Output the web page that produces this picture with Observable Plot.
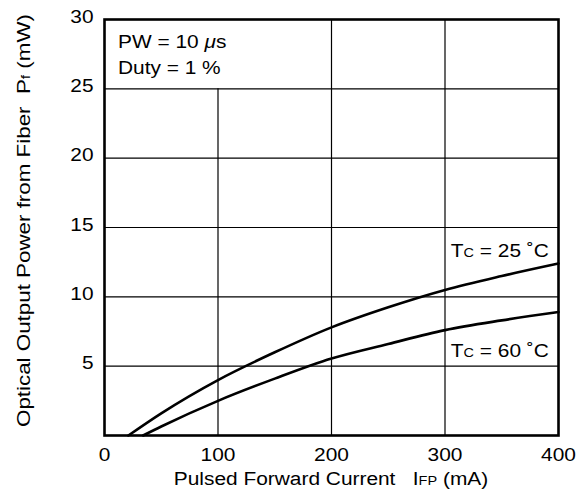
<!DOCTYPE html>
<html><head><meta charset="utf-8">
<script src="https://cdn.jsdelivr.net/npm/d3@7"></script>
<script src="https://cdn.jsdelivr.net/npm/@observablehq/plot@0.6"></script>
<style>
body{margin:0;background:#fff}
svg text{font-family:"Liberation Sans",Arial,sans-serif}
</style>
</head><body><div id="chart"></div>
<script>
// Data
const current25 = [21, 50, 100, 150, 200, 250, 300, 350, 400];
const power25   = [0, 1.6, 4.0, 6.0, 7.8, 9.25, 10.5, 11.5, 12.4];
const current60 = [34, 50, 100, 150, 200, 250, 300, 350, 400];
const power60   = [0, 0.65, 2.5, 4.1, 5.55, 6.6, 7.6, 8.3, 8.9];
const xTicks = [0, 100, 200, 300, 400];
const yTicks = [5, 10, 15, 20, 25, 30];
const gridY = [5, 10, 15, 20, 25];
const gridXvals = [100, 200, 300];
const gridXtop  = [25, 30, 30];

const series = [
  ...current25.map((c, i) => ({x: c, y: power25[i], s: "25"})),
  ...current60.map((c, i) => ({x: c, y: power60[i], s: "60"}))
];
const gridX = gridXvals.map((v, i) => ({x: v, y1: 0, y2: gridXtop[i]}));

const chart = Plot.plot({
  width: 577,
  height: 502,
  marginLeft: 104,
  marginRight: 19,
  marginTop: 19,
  marginBottom: 67,
  style: {fontFamily: "Liberation Sans, Arial, sans-serif", fontSize: "18px", color: "#000", background: "#fff"},
  x: {domain: [0, 400]},
  y: {domain: [0, 30]},
  marks: [
    Plot.ruleY(gridY, {stroke: "#000", strokeWidth: 1.2}),
    Plot.ruleX(gridX, {x: "x", y1: "y1", y2: "y2", stroke: "#000", strokeWidth: 1.2}),
    Plot.line(series, {x: "x", y: "y", z: "s", curve: "monotone-x", stroke: "#000", strokeWidth: 2.6}),
    Plot.frame({stroke: "#000", strokeWidth: 2.6}),
    Plot.axisX(xTicks, {tickSize: 0, tickPadding: 13, label: null, fontSize: 18}),
    Plot.axisY(yTicks, {tickSize: 0, tickPadding: 11, dy: -2.5, label: null, fontSize: 18})
  ]
});
document.getElementById("chart").appendChild(chart);

const svg = d3.select(chart);
const sx = chart.scale("x"), sy = chart.scale("y");

function addText(x, y, parts, opts = {}) {
  const t = svg.append("text")
    .attr("x", x).attr("y", y)
    .attr("font-size", opts.size || 18)
    .attr("fill", "#000")
    .attr("text-anchor", opts.anchor || "start");
  if (opts.transform) t.attr("transform", opts.transform).attr("x", 0).attr("y", 0);
  for (const p of parts) {
    const ts = t.append("tspan").text(p.t);
    if (p.small) ts.attr("font-size", opts.smallSize || 12.5);
    if (p.italic) ts.attr("font-style", "italic");
  }
  return t;
}

// Conditions box
addText(sx.apply(12.3), sy.apply(27.9), [{t: "PW = 10 "}, {t: "μ", italic: true}, {t: "s"}]);
addText(sx.apply(12.3), sy.apply(26.0), [{t: "Duty = 1 %"}]);

// Curve labels
addText(sx.apply(305.5), sy.apply(12.83), [{t: "T"}, {t: "C", small: true}, {t: " = 25 ˚C"}]);
addText(sx.apply(305.5), sy.apply(5.62), [{t: "T"}, {t: "C", small: true}, {t: " = 60 ˚C"}]);

// Axis labels
addText(sx.apply(200), 485, [{t: "Pulsed Forward Current   I"}, {t: "FP", small: true}, {t: " (mA)"}], {anchor: "middle"});
const yLabel = addText(0, 0, [{t: "Optical Output Power from Fiber  P"}, {t: "f", small: true}, {t: " (mW)"}],
  {anchor: "middle", transform: "translate(29.5,220.5) rotate(-90)"});
yLabel.classed("ylab", true);

// The reference lettering is slightly wider than Arial: stretch each text horizontally
svg.selectAll("text").each(function () {
  const w = this.getComputedTextLength();
  if (w > 0) {
    const target = this.classList.contains("ylab") ? 413 : w * 1.16;
    this.setAttribute("textLength", target.toFixed(1));
    this.setAttribute("lengthAdjust", "spacingAndGlyphs");
  }
});
</script>
</body></html>
